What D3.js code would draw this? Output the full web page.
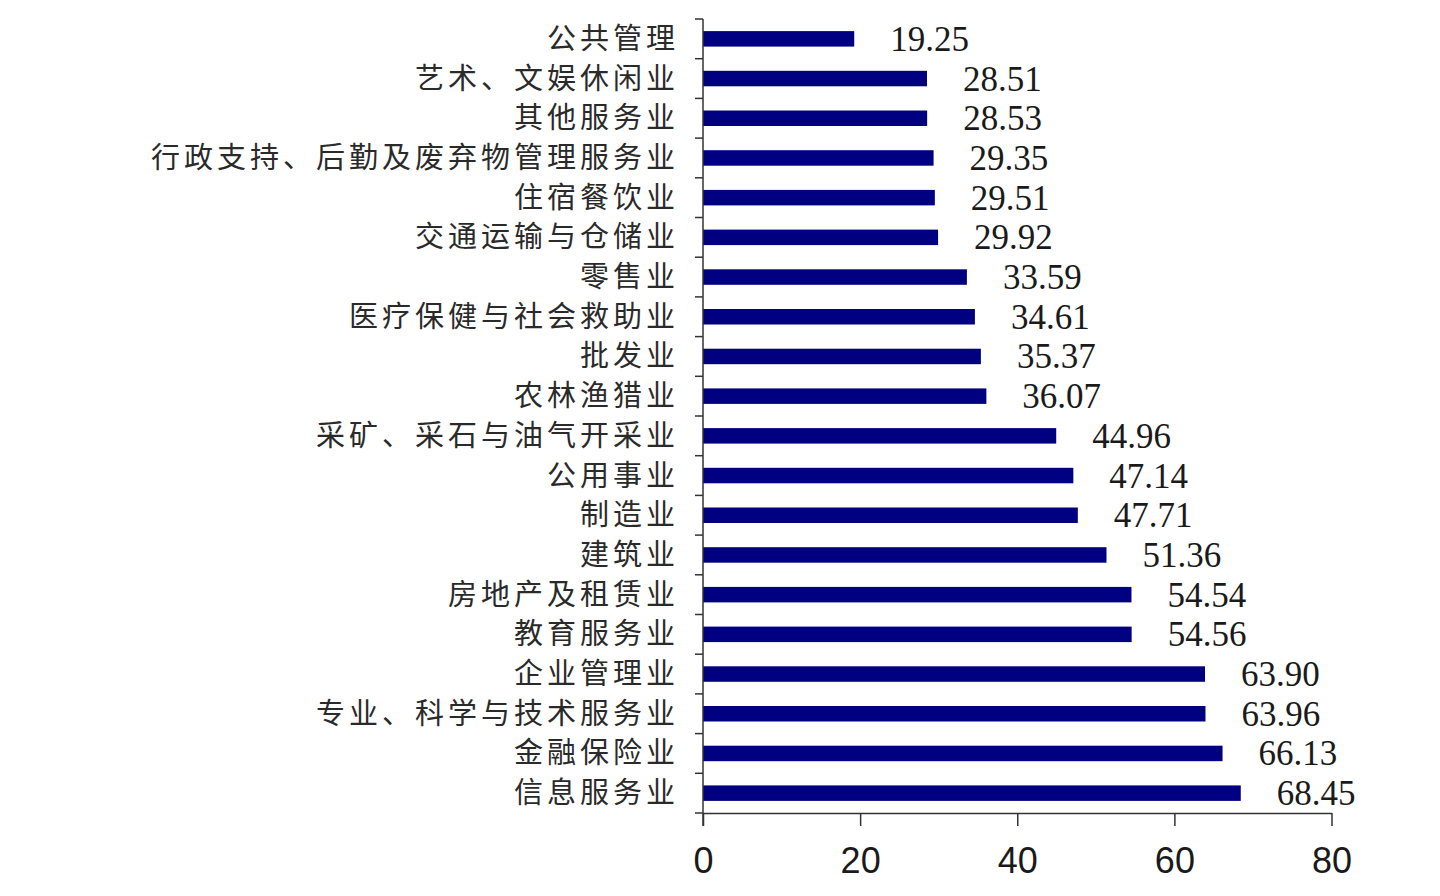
<!DOCTYPE html>
<html>
<head>
<meta charset="utf-8">
<script src="https://cdn.jsdelivr.net/npm/d3@7/dist/d3.min.js"></script>
<style>
  html, body { margin: 0; padding: 0; background: #ffffff; }
  svg { display: block; }
</style>
</head>
<body>
<svg id="chart" width="1440" height="896"></svg>
<script>
const categories = [
  "公共管理", "艺术、文娱休闲业", "其他服务业", "行政支持、后勤及废弃物管理服务业",
  "住宿餐饮业", "交通运输与仓储业", "零售业", "医疗保健与社会救助业", "批发业",
  "农林渔猎业", "采矿、采石与油气开采业", "公用事业", "制造业", "建筑业",
  "房地产及租赁业", "教育服务业", "企业管理业", "专业、科学与技术服务业",
  "金融保险业", "信息服务业"
];
const values = [
  19.25, 28.51, 28.53, 29.35, 29.51, 29.92, 33.59, 34.61, 35.37, 36.07,
  44.96, 47.14, 47.71, 51.36, 54.54, 54.56, 63.90, 63.96, 66.13, 68.45
];
const xTicks = [0, 20, 40, 60, 80];

const data = categories.map((c, i) => ({ name: c, value: values[i] }));

const svg = d3.select("#chart");
const mLeft = 703, mRight = 1331.5, mTop = 19, mBottom = 813;

const x = d3.scaleLinear().domain([0, 80]).range([mLeft, mRight]);
const y = d3.scaleBand().domain(categories).range([mTop, mBottom]).paddingInner(0.61).paddingOuter(0.305);

// bars
svg.append("g").selectAll("rect").data(data).join("rect")
  .attr("x", x(0))
  .attr("y", d => y(d.name))
  .attr("width", d => x(d.value) - x(0))
  .attr("height", y.bandwidth())
  .attr("fill", "#000080");

// value labels
svg.append("g").selectAll("text").data(data).join("text")
  .attr("x", d => x(d.value) + 36)
  .attr("y", d => y(d.name) + y.bandwidth() / 2 + 12)
  .attr("font-family", "'Liberation Serif', 'Times New Roman', serif")
  .attr("font-size", 35)
  .attr("fill", "#1a1a1a")
  .text(d => d.value.toFixed(2));

// y axis line with ticks between categories
const yAxisG = svg.append("g");
yAxisG.append("line")
  .attr("x1", mLeft).attr("x2", mLeft)
  .attr("y1", mTop).attr("y2", mBottom + 13)
  .attr("stroke", "#333").attr("stroke-width", 1.5);
const bounds = d3.range(categories.length + 1).map(i => mTop + i * (mBottom - mTop) / categories.length);
yAxisG.selectAll("line.tk").data(bounds).join("line")
  .attr("class", "tk")
  .attr("x1", mLeft - 8).attr("x2", mLeft)
  .attr("y1", d => d).attr("y2", d => d)
  .attr("stroke", "#333").attr("stroke-width", 1.5);

// category labels
svg.append("g").selectAll("text").data(data).join("text")
  .attr("x", mLeft - 24)
  .attr("y", d => y(d.name) + y.bandwidth() / 2 + 10)
  .attr("text-anchor", "end")
  .attr("font-family", "'Noto Sans CJK SC', sans-serif")
  .attr("font-size", 29)
  .attr("letter-spacing", 4)
  .attr("fill", "#2a2a2a")
  .text(d => d.name);

// x axis
const xAxis = d3.axisBottom(x).tickValues(xTicks).tickSize(13).tickSizeOuter(0).tickFormat(d3.format("d"));
const xg = svg.append("g").attr("transform", `translate(0,${mBottom})`).call(xAxis);
xg.select(".domain").attr("stroke", "#333").attr("stroke-width", 1.5);
xg.selectAll(".tick line").attr("stroke", "#333").attr("stroke-width", 1.5);
xg.selectAll(".tick text")
  .attr("font-family", "'Liberation Sans', Arial, sans-serif")
  .attr("font-size", 36)
  .attr("fill", "#1a1a1a")
  .attr("dy", 0)
  .attr("y", 60);
</script>
</body>
</html>
